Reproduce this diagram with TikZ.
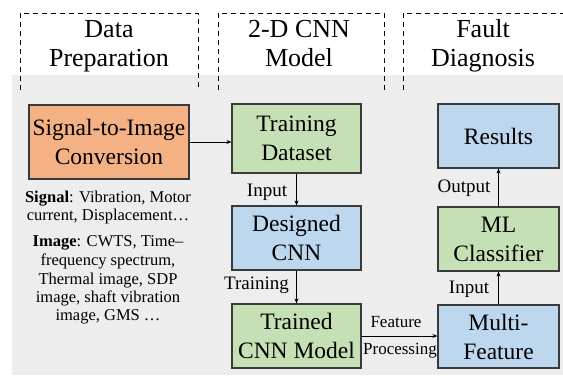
\documentclass[tikz,border=0pt]{standalone}
\usepackage{fontspec}
\setmainfont{Liberation Serif}
\newfontfamily\tnr{Liberation Serif}
\usetikzlibrary{arrows.meta}
\definecolor{bgg}{HTML}{EDEDED}
\definecolor{org}{HTML}{F4B183}
\definecolor{grn}{HTML}{C5E0B4}
\definecolor{blu}{HTML}{BDD7EE}
\definecolor{edgec}{HTML}{3A3A3A}
\begin{document}
\begin{tikzpicture}[x=1pt,y=-1pt,
 box/.style={draw=edgec, line width=1.1pt, align=center, inner sep=0pt, font=\tnr\fontsize{23.5}{29}\selectfont},
 hdr/.style={anchor=base, inner sep=0pt, font=\tnr\fontsize{26}{29}\selectfont},
 lbl/.style={inner sep=0pt, font=\tnr\fontsize{19}{22}\selectfont},
 lbltwo/.style={inner sep=0pt, font=\tnr\fontsize{17}{20}\selectfont},
 small/.style={anchor=base, inner sep=0pt, font=\tnr\fontsize{16.5}{18.5}\selectfont},
 arr/.style={-{Stealth[length=5pt,width=4pt]}, line width=0.8pt},
 frame/.style={dash pattern=on 5pt off 4pt, line width=0.9pt}]
\useasboundingbox (0,0) rectangle (563,377);
\fill[bgg] (12,75) rectangle (563,375);
% dashed frames
\draw[frame] (20,90) -- (20,13) -- (198,13) -- (198,90);
\draw[frame] (218,90) -- (218,13) -- (384,13) -- (384,90);
\draw[frame] (403,90) -- (403,13) -- (563,13);
% headers
\node[hdr] (h1a) at (109,38) {Data};
\node[hdr] (h1b) at (109,67) {Preparation};
\node[hdr] (h2a) at (299,38) {2-D CNN};
\node[hdr] (h2b) at (299,67) {Model};
\node[hdr] (h3a) at (483,38) {Fault};
\node[hdr] (h3b) at (483,67) {Diagnosis};
% boxes
\node[box, fill=org, minimum width=160pt, minimum height=74pt] (sig) at (109,142) {Signal-to-Image\\Conversion};
\node[box, fill=grn, minimum width=129pt, minimum height=69pt] (train) at (296.5,138.5) {Training\\Dataset};
\node[box, fill=blu, minimum width=129pt, minimum height=64pt] (des) at (296.5,238) {Designed\\CNN};
\node[box, fill=grn, minimum width=129pt, minimum height=64pt] (trd) at (296.5,336) {Trained\\CNN Model};
\node[box, fill=blu, minimum width=121pt, minimum height=64pt] (res) at (498.5,136) {Results};
\node[box, fill=grn, minimum width=121pt, minimum height=64pt] (ml) at (498.5,239) {ML\\Classifier};
\node[box, fill=blu, minimum width=121pt, minimum height=63pt] (mf) at (498.5,336.5) {Multi-\\Feature};
% arrows
\draw[arr] (sig.east) -- (sig.east -| train.west);
\draw[arr] (train.south) -- (des.north);
\draw[arr] (des.south) -- (trd.north);
\draw[arr] (trd.east) -- (trd.east -| mf.west);
\draw[arr] (mf.north) -- (ml.south);
\draw[arr] (ml.north) -- (res.south);
% labels
\node[lbl] (l1) at (267,192) {Input};
\node[lbl] (l2) at (256.5,285) {Training};
\node[lbl] (l3) at (464,188) {Output};
\node[lbl] (l4) at (469,289) {Input};
\node[lbltwo] (l5) at (396,322) {Feature};
\node[lbltwo] (l6) at (400,351) {Processing};
% notes
\node[small] (s1) at (108,203) {\textbf{Signal}: Vibration, Motor};
\node[small] (s2) at (108,221) {current, Displacement…};
\node[small] (s3) at (108,247) {\textbf{Image}: CWTS, Time–};
\node[small] (s4) at (108,265.5) {frequency spectrum,};
\node[small] (s5) at (108,284) {Thermal image, SDP};
\node[small] (s6) at (108,302) {image, shaft vibration};
\node[small] (s7) at (108,320.5) {image, GMS …};
\end{tikzpicture}
\end{document}
